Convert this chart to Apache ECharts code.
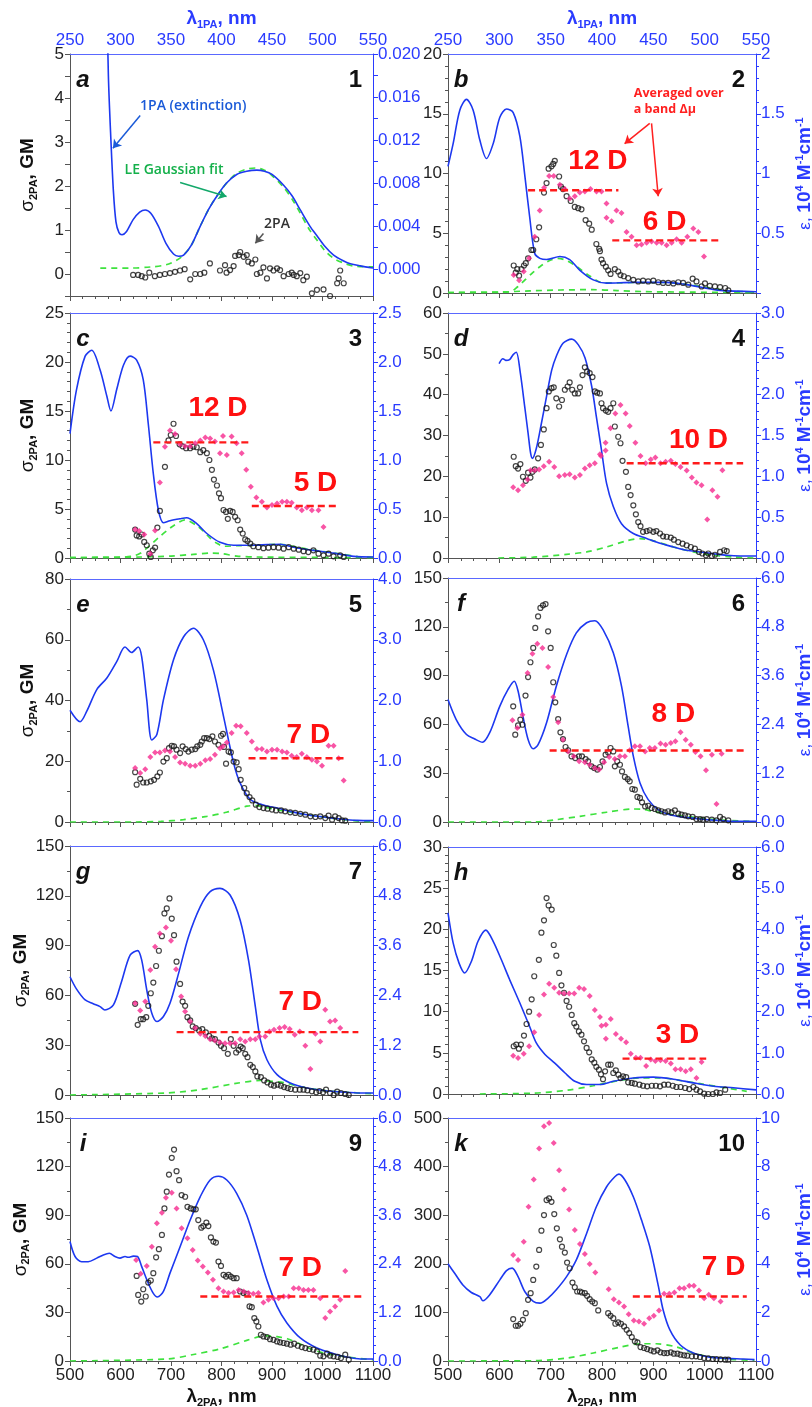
<!DOCTYPE html>
<html>
<head>
<meta charset="utf-8">
<script src="https://cdn.jsdelivr.net/npm/echarts@6/dist/echarts.min.js"></script>
<style>html,body{margin:0;background:#fff}#chart{width:812px;height:1407px}</style>
</head>
<body>
<div id="chart"></div>
<script>
// ---- panel a (compound 1) ----
const extA = [[570,0.032],[576,0.018],[581,0.012],[586,0.0072],[591,0.0044],[597,0.0034],[603,0.0032],[612,0.0035],[625,0.0046],[638,0.0053],[649,0.0055],[660,0.0052],[675,0.004],[690,0.0024],[705,0.0014],[715,0.0012],[725,0.0013],[740,0.0022],[758,0.004],[775,0.0056],[791,0.0068],[810,0.008],[830,0.0088],[850,0.0091],[870,0.0092],[885,0.0091],[900,0.0088],[923,0.0078],[940,0.0068],[956,0.0055],[975,0.004],[989,0.0031],[1005,0.0021],[1022,0.0013],[1040,0.0008],[1055,0.0005],[1075,0.0003],[1100,0.0001]];
const fitA = [[560,0.0001],[620,0.0001],[660,0.0002],[690,0.0004],[710,0.0008],[725,0.0013],[740,0.0022],[758,0.004],[775,0.0056],[791,0.0068],[810,0.008],[830,0.0089],[850,0.0093],[868,0.0094],[885,0.0092],[900,0.0087],[923,0.0076],[940,0.0065],[956,0.0052],[975,0.0036],[989,0.0027],[1005,0.0017],[1022,0.001],[1040,0.0006],[1060,0.0003],[1100,0.0002]];
const tpaA = [[625,-0.02],[635,-0.02],[642,-0.05],[649,-0.08],[657,0.03],[668,-0.05],[678,-0.02],[688,0],[698,0.02],[708,0.05],[718,0.08],[727,0.11],[738,-0.12],[748,0],[758,0],[766,0.03],[777,0.24],[797,0.08],[807,0.2],[810,0.03],[817,0.09],[824,0.18],[827,0.41],[834,0.43],[837,0.5],[844,0.39],[850,0.43],[853,0.28],[860,0.24],[867,0.33],[870,0],[877,0.03],[883,0.15],[890,-0.1],[896,0.13],[903,0.08],[910,0.13],[916,0.09],[923,-0.05],[933,0],[939,0.03],[943,-0.02],[949,-0.05],[956,0.02],[962,-0.14],[969,-0.06],[979,-0.44],[989,-0.36],[1002,-0.35],[1015,-0.5],[1029,-0.21],[1032,-0.1],[1035,0.08],[1042,-0.21]];

// ---- panel b (2) ----
const extB = [[500,1.06],[510,1.25],[523,1.53],[536,1.62],[549,1.53],[562,1.28],[575,1.125],[588,1.25],[601,1.47],[614,1.54],[627,1.51],[640,1.31],[650,0.97],[659,0.64],[669,0.33],[679,0.29],[692,0.28],[718,0.305],[737,0.28],[757,0.19],[783,0.11],[809,0.083],[861,0.089],[926,0.089],[965,0.07],[991,0.05],[1030,0.022],[1100,0.011]];
const fitB1 = [[500,0.004],[600,0.006],[621,0.01],[635,0.05],[650,0.11],[665,0.17],[679,0.22],[697,0.27],[714,0.29],[732,0.27],[751,0.22],[777,0.14],[802,0.085],[830,0.085],[870,0.088],[920,0.088],[960,0.075],[1000,0.05],[1040,0.022],[1070,0.012],[1100,0.006]];
const fitB2 = [[500,0.004],[600,0.008],[660,0.018],[720,0.025],[780,0.028],[830,0.02],[880,0.012],[950,0.008],[1100,0.003]];
const tpaB = [[628,2.3],[632,1.7],[635,2.0],[638.5,1.45],[643,2.0],[648,2.3],[651.5,2.5],[656,2.9],[662.5,3.6],[666,3.6],[672,4.5],[677.5,5.5],[687,8.4],[692,9.2],[696,10.4],[701.6,10.6],[705,10.8],[708,11.06],[716.5,9.75],[720,8.9],[724,8.7],[731,8.1],[739,7.7],[747,7.2],[753.6,7.1],[760,7.0],[768,6.1],[775,5.8],[780,5.3],[789,4.1],[794.5,3.7],[796,3.5],[799,2.8],[802,2.5],[807.5,2.2],[812,1.9],[816.6,1.6],[825,2.0],[831.6,1.8],[836,1.5],[842.6,1.4],[851,1.25],[861,1.1],[870.6,0.97],[880,1.03],[890,0.97],[900,1.03],[909.6,0.9],[919,0.84],[929,0.84],[939,0.8],[948.6,0.9],[958,0.84],[968,0.7],[976.6,1.2],[984,0.97],[994,0.55],[1000.6,0.8],[1010,0.6],[1020,0.55],[1030,0.5],[1040,0.42],[1046,0.22]];
const avgB = [[628,1.5],[638.5,1.06],[647.6,1.8],[658,2.9],[669,4.7],[678.8,6.9],[687.3,8.8],[697,9.8],[706,9.8],[717.8,9.05],[727.6,8.7],[737.3,7.9],[747,8.1],[756.8,8.4],[766.6,8.5],[777.6,8.7],[789.3,8.5],[799,8.5],[808.8,7.5],[808.8,6.3],[818.6,6.0],[828.3,6.9],[838,6.7],[847.8,5.1],[857.6,4.7],[867.4,4.0],[877,4.05],[886.9,4.2],[896.6,4.3],[906.4,4.2],[916.1,4.2],[925.9,4.0],[935.6,4.2],[945.4,4.5],[955.1,4.2],[966.2,4.7],[977.9,5.4],[987.6,5.1],[998.7,3.06]];
const bandsB = [[656,832,8.6],[820,1031,4.4]];

// ---- panel c (3) ----
const extC = [[500,1.27],[513,1.72],[530,2.06],[543,2.12],[559.5,1.92],[573,1.65],[581,1.5],[592.5,1.72],[606,1.97],[619,2.06],[632,2.02],[645,1.82],[655,1.37],[665,0.86],[675,0.49],[685,0.36],[698,0.38],[718,0.4],[731,0.41],[751,0.35],[771,0.25],[797,0.16],[824,0.13],[863,0.13],[890,0.136],[916,0.14],[943,0.11],[982,0.078],[1022,0.05],[1062,0.017],[1100,0.01]];
const fitC1 = [[500,0.005],[600,0.008],[625,0.02],[640,0.05],[652,0.1],[665,0.16],[678,0.22],[692,0.28],[705,0.33],[728,0.39],[751,0.33],[765,0.27],[778,0.2],[791,0.15],[804,0.12],[830,0.125],[870,0.13],[916,0.14],[950,0.11],[990,0.075],[1030,0.045],[1070,0.015],[1100,0.006]];
const fitC2 = [[500,0.004],[640,0.01],[700,0.02],[740,0.035],[780,0.05],[800,0.045],[830,0.02],[870,0.01],[1100,0.003]];
const tpaC = [[629,2.9],[632,2.3],[637,2.2],[642,2.4],[647,1.64],[652,1.3],[657,0.44],[660,0.1],[664,0.78],[668.5,1.06],[673,3.1],[678,4.8],[688,9.3],[695,12.0],[699.5,12.55],[705,13.7],[710,12.45],[717,11.6],[723,11.4],[730,11.2],[738,11.2],[744.5,11.36],[751,11.3],[758,10.8],[764,11.0],[771,10.7],[776,10.0],[781,9.0],[785,8.0],[791,7.4],[795,6.6],[799,6.1],[804,4.9],[809,4.7],[812.5,4.0],[817,4.8],[822,4.7],[827,4.2],[832,3.85],[837,2.9],[842,2.5],[847,1.9],[851.5,1.74],[857,1.47],[863,1.2],[873,1.1],[883,1.0],[893,1.05],[903,1.1],[913,1.05],[923,0.95],[933,1.1],[943,0.95],[953,0.85],[962.5,0.7],[972,0.6],[982,0.78],[992,0.44],[1002,0.27],[1012,0.44],[1022,0.17],[1035,0.27],[1042,0.1]];
const avgC = [[629,2.9],[637,2.75],[647,2.4],[659,0.44],[668.5,2.8],[678,7.7],[688,11.35],[698,13.0],[708,12.65],[718,11.6],[728,11.4],[738,11.4],[748,11.7],[758,12.0],[768,12.3],[777.5,12.2],[787,11.9],[797,10.7],[803,12.45],[810.5,10.5],[820,12.4],[830,11.7],[840,10.7],[849,9.0],[858,7.26],[869,6.17],[880,5.73],[890,5.15],[900,5.4],[910,5.56],[920,5.73],[929.5,5.73],[939,5.63],[949,5.15],[959,4.88],[969,5.15],[979,4.88],[992,4.88],[1002,3.17]];
const bandsC = [[665,857,11.8],[860,1032,5.3]];

// ---- panel d (4) ----
const extD = [[599.5,2.38],[607,2.44],[612.5,2.42],[620,2.43],[627,2.49],[633,2.52],[641,2.26],[649.5,1.85],[656,1.53],[661,1.28],[664.5,1.22],[672,1.34],[682,1.65],[692,1.98],[702,2.3],[711,2.47],[724,2.63],[741,2.68],[754,2.61],[767,2.45],[780,2.1],[789,1.73],[799,1.32],[809,0.91],[822,0.63],[838,0.42],[861,0.3],[887,0.24],[913,0.18],[939,0.135],[965,0.094],[991,0.074],[1017,0.053],[1043,0.033],[1069,0.025],[1100,0.025]];
const fitD = [[598,0],[666,0.01],[731,0.045],[770,0.074],[809,0.135],[848,0.21],[874,0.237],[900,0.21],[939,0.135],[978,0.074],[1017,0.033],[1056,0.012],[1095,0]];
const tpaD = [[628,24.8],[632,22.5],[636.5,21.9],[641,23.0],[646,19.9],[651.5,18.9],[656,20.9],[660.6,19.7],[664.5,21.1],[669,21.7],[675.5,24.4],[681,27.7],[686.6,31.5],[692,36.7],[696.4,40.8],[701.6,41.6],[706,41.8],[711,39.1],[716.5,37.1],[722,38.7],[727.6,41.2],[733,42.0],[737,43.0],[742,41.2],[747,40.3],[753.6,40.3],[757,41.8],[762,44.8],[766.6,46.7],[771,45.7],[776,45.3],[781.5,44.3],[786,40.8],[790.6,40.5],[796,40.3],[799,37.9],[802,36.7],[807.5,36.1],[812,35.8],[816.6,36.7],[822,37.9],[825,32.2],[831.6,29.7],[836,28.1],[840,23.8],[846.6,21.1],[851,17.4],[855.7,15.4],[861,12.9],[866,10.7],[870.6,8.8],[875,7.8],[880,6.4],[887,6.6],[893,6.8],[900,6.4],[906,6.6],[913,6.0],[919,5.3],[926,5.2],[934,5.0],[940,4.5],[948.6,3.9],[957,3.5],[965,3.1],[973,2.7],[981,2.3],[989,1.5],[995.5,1.1],[1002.6,0.65],[1007,1.1],[1014,0.5],[1020,0.8],[1030,1.5],[1038,1.9],[1043,1.7]];
const avgD = [[627,17.3],[636.5,16.6],[646,17.8],[655,19.2],[661,21.5],[669,21.5],[677.5,21.7],[686.6,22.5],[697,23.6],[707,22.3],[716.5,20.0],[727.6,20.3],[737,20.5],[747,19.7],[757,20.3],[766.6,21.9],[776,22.7],[786,23.2],[796,25.4],[798,25.0],[807,26.3],[807,28.2],[816.6,31.8],[826,35.4],[836,37.5],[846,35.4],[854,32.3],[865,28.2],[875,25.0],[885,23.2],[895,24.1],[904,24.6],[914,23.2],[924,23.6],[934,23.8],[943,23.0],[953,22.3],[965,21.4],[975,19.7],[984,18.5],[994,17.8],[1005,9.4],[1015,16.6],[1025,15.0],[1034.5,21.5]];
const bandsD = [[848,1075,23.2]];

// ---- panel e (5) ----
const extE = [[500,1.84],[520,1.65],[533,1.82],[553,2.18],[573,2.37],[592.5,2.64],[609,2.88],[622,2.79],[635,2.88],[642,2.72],[652,2.01],[662,1.35],[672,1.44],[685,2.01],[705,2.67],[725,3.05],[744.5,3.19],[764,3.0],[784,2.5],[804,1.74],[824,0.97],[837,0.64],[857,0.37],[883,0.28],[910,0.23],[936,0.175],[969,0.12],[1002,0.082],[1035,0.05],[1068,0.027],[1100,0.022]];
const fitE = [[500,0],[625,0],[680,0.01],[725,0.038],[771,0.093],[810,0.16],[850,0.26],[870,0.27],[883,0.25],[923,0.18],[969,0.12],[1015,0.066],[1062,0.022],[1100,0]];
const tpaE = [[629,16.4],[632,12.3],[639,14.2],[645,13.0],[652,13.0],[660,13.4],[666.5,13.9],[673,15.0],[678,16.3],[685,19.9],[691.6,21.0],[696,24.3],[701.5,25.1],[706,24.9],[711,23.8],[718,22.7],[723,24.9],[729,24.0],[734.5,23.2],[741,23.8],[748,24.0],[752,24.9],[758,25.4],[761,26.5],[765.6,27.6],[771,27.6],[776,27.3],[782,28.2],[787,26.5],[794,25.4],[799,28.4],[803,29.0],[805,24.7],[809,19.2],[814,23.2],[818.5,22.9],[824,19.9],[830,19.6],[834,17.4],[838,13.9],[845,11.2],[850,9.5],[855.5,8.2],[861,7.1],[868,5.7],[875,4.9],[883,4.6],[891,4.4],[900,4.1],[908,3.8],[918,3.8],[926,3.5],[936,3.2],[946,3.0],[956,2.7],[966,2.4],[976,1.86],[986,1.64],[995.5,1.86],[1005.5,1.3],[1012,2.1],[1019,0.77],[1025,1.86],[1032,1.3],[1038.5,0.55],[1045,0.44]];
const avgE = [[629,17.8],[639,16.1],[649,17.4],[659,21.4],[668.5,22.9],[678,22.9],[688,23.5],[698,23.2],[708,21.4],[718,19.6],[728,19.2],[738,18.5],[748,18.5],[758,19.2],[768,20.3],[777.5,20.7],[787,22.1],[797,24.3],[803,24.9],[810.5,26.2],[820,29.3],[829,31.7],[838,31.5],[850,29.3],[860,26.5],[870,24.0],[880,24.0],[890,23.2],[900,23.8],[910,23.8],[920,23.2],[929.5,22.9],[939,21.8],[949,21.4],[959,22.5],[969,21.4],[979,20.5],[989,19.9],[999,18.5],[1012,25.1],[1022,25.1],[1032,21.0],[1042,13.7]];
const bandsE = [[853.5,1048,21.0]];

// ---- panel f (6) ----
const extF = [[500,3.01],[516,2.52],[536,2.15],[552,2.04],[567,1.96],[581,2.19],[601,2.85],[617,3.26],[629,3.46],[636.5,3.22],[646,2.6],[656,2.03],[666,1.8],[675.5,1.9],[692,2.44],[711,3.34],[731,4.12],[750,4.65],[770,4.9],[786,4.95],[802,4.73],[822,4.16],[838,3.34],[851,2.35],[861,1.62],[874,0.96],[890,0.55],[910,0.3],[932,0.18],[958,0.12],[991,0.074],[1023,0.041],[1056,0.016],[1100,0.016]];
const fitF = [[500,0],[666,0],[711,0.057],[757,0.14],[809,0.24],[861,0.32],[880,0.31],[900,0.26],[939,0.18],[991,0.1],[1043,0.04],[1095,0.016]];
const tpaF = [[627,71.1],[631,53.7],[636.5,59.4],[641,62.9],[645,59.8],[651,77.7],[656,89.1],[660.6,98.2],[666,107.0],[670,119.3],[675.5,126.4],[680,131.6],[685,133.2],[690,134.0],[695,117.2],[700,107.0],[705,85.9],[709,73.6],[714.6,63.3],[719,55.1],[724,51.0],[729,46.1],[734,44.1],[740.6,40.4],[748,39.3],[755,40.4],[761,40.4],[768,38.7],[773,37.3],[779.6,34.2],[785,33.2],[790.6,32.2],[796,33.8],[801,37.3],[807,41.4],[812,42.8],[816.6,45.5],[822,43.4],[825,34.2],[829.6,37.3],[835,35.2],[839,31.1],[844.6,27.7],[850,26.4],[854,25.0],[859,20.3],[864,19.9],[869,15.4],[874,14.8],[878,12.1],[884,9.6],[890,10.0],[896.6,8.6],[903,8.0],[909.6,7.2],[916,6.6],[922.6,5.9],[929,6.6],[935.6,5.9],[942,7.2],[948.6,5.1],[955,4.5],[961.6,4.1],[968,3.5],[976.6,3.1],[984,1.8],[991,1.8],[997,1.4],[1004,1.8],[1014,1.4],[1023,1.0],[1030,3.1],[1036,1.8],[1046,1.0]];
const avgF = [[625.5,62.5],[635,57.8],[645,66.0],[655,91.6],[664.5,103.5],[674,109.6],[684,107.0],[695,95.3],[705,76.8],[714.6,61.3],[724,50.6],[734,43.4],[745,40.4],[755.5,37.3],[766.6,36.7],[776,35.2],[786,33.2],[794.5,32.2],[804,36.7],[814,40.0],[825,38.7],[835,40.4],[844.6,40.4],[854,44.1],[864,46.5],[874,46.5],[884,43.4],[893,45.5],[903,45.5],[914,48.2],[924,47.5],[934,48.6],[943,49.6],[953,55.1],[963,50.6],[973,47.5],[982,43.0],[992,40.4],[1002.6,31.8],[1014,41.4],[1023,11.1],[1033,42.0]];
const bandsF = [[698,1082,44.0]];

// ---- panel g (7) ----
const extG = [[500,2.85],[513,2.55],[530,2.29],[546,2.2],[559.5,2.13],[569,2.05],[586,2.17],[602,2.73],[619,3.37],[634,3.48],[642,3.25],[652,2.53],[662,1.97],[672,1.77],[685,1.89],[698,2.21],[715,2.93],[734.5,3.81],[758,4.54],[777.5,4.9],[797,4.98],[817,4.82],[837,4.21],[853.5,3.25],[867,2.13],[877,1.33],[890,0.85],[910,0.49],[936,0.29],[969,0.17],[1002,0.11],[1042,0.07],[1075,0.05],[1100,0.05]];
const fitG = [[500,0],[692,0.05],[758,0.13],[824,0.27],[877,0.35],[900,0.33],[923,0.3],[956,0.2],[1002,0.11],[1042,0.07],[1100,0.03]];
const tpaG = [[629,54.9],[634,42.3],[640,45.7],[645,45.7],[651,46.9],[655,53.7],[660,61.3],[665,67.7],[670.5,77.7],[676,86.9],[682,95.7],[687,109.4],[691.6,112.4],[697,118.4],[701.5,106.3],[706,96.3],[711,80.3],[718,66.9],[723,56.3],[728,53.7],[732.6,46.9],[738,44.9],[743,41.3],[749,40.3],[755.7,38.9],[762,39.7],[769,37.7],[775.5,35.6],[781,34.2],[787,33.6],[794,31.6],[799,29.6],[805,28.2],[812.5,24.8],[818.5,33.6],[824,29.6],[829,25.6],[834,27.2],[838,29.2],[842,28.2],[847,24.8],[851.5,22.8],[857,18.2],[862,16.8],[867,14.2],[871,11.2],[878,10.8],[884.5,8.8],[891,7.6],[898,6.2],[904,5.6],[911,6.2],[917.6,5.6],[924,4.8],[931,4.2],[937,3.6],[946,3.2],[955,3.2],[962.5,3.2],[970,2.8],[979,2.2],[987.6,1.6],[994,2.4],[1001,1.6],[1007,3.2],[1015,1.2],[1022,0],[1029,2.0],[1036.5,1.2],[1045,0.6],[1052,0]];
const avgG = [[629,55.3],[639,50.9],[649,56.3],[659,75.3],[668.5,89.3],[678,97.3],[690,100.9],[700,92.9],[710,75.7],[720,59.3],[728,50.3],[738,44.3],[748,40.3],[758,36.9],[768,35.6],[777.5,33.6],[787,32.8],[797,31.6],[807,31.2],[817,31.2],[827,31.2],[837,33.6],[847,32.2],[857,33.6],[867,33.6],[875,35.2],[886.5,35.2],[895,38.3],[904,39.3],[915,40.3],[925,40.9],[935,39.7],[945,36.3],[955,38.3],[966,29.6],[976,15.6],[986,36.9],[995.5,32.2],[1005.5,51.3],[1015,44.3],[1025,44.9],[1035,40.3]];
const bandsG = [[711,1071,37.9]];

// ---- panel h (8) ----
const extH = [[500,4.4],[510,3.67],[521.5,3.18],[532.5,2.94],[545.5,3.22],[558.5,3.71],[573.5,3.98],[588,3.71],[604,3.26],[620,2.78],[640,2.21],[659,1.64],[672,1.24],[689,0.96],[708,0.75],[728,0.51],[747,0.31],[770,0.23],[796,0.23],[822,0.31],[861,0.39],[900,0.41],[939,0.36],[978,0.27],[1017,0.19],[1056,0.15],[1100,0.1]];
const fitH = [[562,0],[666,0.02],[731,0.09],[783,0.2],[835,0.33],[874,0.39],[913,0.39],[952,0.33],[991,0.25],[1030,0.17],[1082,0.065]];
const tpaH = [[628,5.8],[633,6.0],[638,5.5],[642,6.0],[648,7.1],[653,8.5],[658,10.0],[663,11.5],[668,14.3],[677,16.3],[682,19.6],[687,21.1],[692,23.8],[696,22.9],[702,22.4],[706,18.1],[711,16.8],[716.5,14.7],[721,13.2],[726,12.3],[731,11.3],[736,10.6],[741,9.6],[746,8.6],[750,8.2],[755,7.6],[760,7.2],[765,6.4],[770,5.6],[775,5.06],[780,4.2],[785,3.8],[789,3.3],[794,2.96],[798,2.4],[802,1.8],[806,2.75],[812,3.56],[817,3.56],[822,2.55],[827,2.87],[832,2.35],[836,1.94],[841,2.15],[847,2.06],[851,1.42],[858,1.34],[864,1.26],[873,1.13],[880,1.0],[888,0.93],[897,1.0],[905,1.0],[913,0.93],[921,1.13],[929,1.13],[938,1.0],[945,0.85],[953,0.85],[962,0.73],[970,0.6],[978,0.85],[984,0.53],[991,0.32],[999,0.04],[1007,0],[1016,0],[1023,0.2],[1030,0.12],[1040,0.53]];
const avgH = [[627,4.66],[636.5,4.37],[647.6,4.9],[658,5.8],[668,7.5],[677.5,9.6],[687,12.1],[697,13.4],[707,12.9],[716.5,12.3],[726,12.2],[736,12.2],[746,12.2],[755.5,12.9],[765,12.75],[776,11.9],[786,10.2],[796,9.35],[799,8.3],[807.5,8.4],[807.5,6.7],[817,9.1],[827,7.3],[837,6.7],[847,6.3],[856,4.9],[866,4.4],[875,4.4],[886,3.4],[895,4.2],[904,4.0],[914,4.1],[924,4.0],[934,3.7],[943,3.0],[953,3.0],[963,2.75],[973,3.0],[984,1.94],[994,3.9]];
const bandsH = [[840,1003,4.3]];

// ---- panel i (9) ----
const extI = [[500,2.95],[510,2.58],[523,2.45],[536,2.45],[553,2.54],[566,2.62],[578,2.66],[589,2.58],[599,2.54],[609,2.58],[615.6,2.56],[625.5,2.59],[633.5,2.58],[642,2.33],[655,1.92],[665,1.67],[673,1.58],[685,1.72],[698,2.17],[718,2.82],[738,3.48],[758,4.06],[777.5,4.47],[794,4.56],[810.5,4.47],[830,4.14],[850,3.6],[870,2.82],[890,2.0],[910,1.35],[929.5,0.94],[956,0.57],[989,0.32],[1022,0.18],[1048,0.1],[1075,0.05],[1100,0.05]];
const fitI = [[500,0],[692,0.05],[744.5,0.16],[797,0.3],[850,0.51],[875,0.6],[890,0.62],[910,0.6],[930,0.55],[956,0.42],[980,0.28],[1009,0.18],[1048,0.1],[1100,0.03]];
const tpaI = [[632,52.5],[635,40.8],[641,36.7],[645,44.3],[650,39.8],[655,48.4],[660,49.7],[665,54.2],[670.5,64.0],[676,69.0],[682,77.8],[687,94.2],[691.6,104.5],[696,115.1],[701.5,125.4],[706,130.5],[711,117.2],[716,111.6],[721,102.4],[728,101.4],[732.6,95.2],[739,94.2],[744.5,93.6],[749,93.6],[754,87.0],[760,82.3],[764,83.3],[770,85.4],[774,83.3],[779,76.3],[784,73.7],[789,73.1],[794,61.4],[799,58.7],[804,53.2],[809,52.1],[814,53.2],[818.5,52.1],[824,51.1],[830,51.1],[837,42.9],[843.6,41.9],[850,41.5],[855.5,33.7],[860,33.2],[865,26.5],[869,24.4],[873,21.3],[878,16.2],[883,15.2],[890,14.8],[896,13.5],[903,13.1],[910,12.1],[916,11.5],[923,11.1],[929.5,10.7],[937,10.1],[944,10.7],[951,9.4],[959,8.6],[966,8.0],[974,7.4],[982,7.0],[989,6.0],[995.5,3.3],[1002,2.9],[1009,4.5],[1015,3.3],[1022,2.9],[1030,2.5],[1036.5,1.8],[1045,3.9],[1052,0.8]];
const avgI = [[631,62.4],[640,53.8],[652,58.7],[662,70.6],[672,85.0],[682,91.5],[690,100.8],[701.5,103.8],[711,94.2],[721,81.9],[732.6,75.7],[743,68.5],[753,62.0],[763,58.3],[773,54.6],[783,50.1],[794,44.9],[804,42.9],[814,41.9],[824,42.3],[834,43.9],[844,42.9],[853.5,41.9],[863,41.5],[873,41.9],[883,36.1],[893,37.8],[903,38.8],[913,38.8],[923,39.8],[933,39.8],[943,44.9],[953,44.9],[962.5,43.9],[972,43.9],[982,43.9],[995.5,38.8],[1005.5,26.5],[1015,30.6],[1025,33.7],[1035,37.8],[1045,55.6]];
const bandsI = [[758,1078,39.8]];

// ---- panel k (10) ----
const extK = [[500,4.0],[513,3.61],[529,3.13],[545.5,2.82],[562,2.65],[568,2.48],[581,2.72],[601,3.34],[614,3.72],[625,3.82],[636.5,3.47],[649.5,2.86],[666,2.45],[679,2.38],[695,2.59],[711,2.93],[731,3.47],[750,4.16],[770,5.25],[789,6.35],[809,7.17],[825,7.58],[833,7.69],[845,7.44],[861,6.76],[877,5.8],[893,4.71],[910,3.06],[919,2.11],[932,1.29],[952,0.67],[978,0.33],[1010,0.16],[1043,0.11],[1075,0.08],[1097,0.055]];
const fitK = [[500,0],[666,0.01],[731,0.12],[783,0.33],[835,0.57],[874,0.71],[906,0.71],[945,0.58],[965,0.42],[985,0.28],[1017,0.15],[1056,0.06],[1097,0.03]];
const tpaK = [[627,86.2],[632,72.5],[636.5,72.5],[641,76.6],[646,84.8],[651.5,98.5],[656,125.9],[661,139.5],[666,166.9],[672,194.3],[677.5,228.5],[682,268.1],[687,300.3],[692,331.1],[697,334.5],[701.6,327.6],[707,302.3],[712,272.9],[718,250.3],[722,235.3],[727.6,223.0],[732,202.5],[737,190.8],[742.5,161.4],[747,151.8],[751.6,143.0],[757,143.0],[761,140.9],[766.6,139.5],[771,134.1],[776,127.2],[781,122.4],[786,119.0],[792.6,104.0],[812,98.5],[816.6,93.0],[822,88.2],[826,76.6],[831.6,79.3],[837,76.6],[843,71.1],[848,64.3],[853,57.5],[858,49.2],[864,40.4],[869,38.3],[875,28.7],[882,26.7],[888,24.6],[895,21.9],[901,19.8],[908,21.9],[914,17.8],[921,16.4],[927,16.4],[934,17.8],[940,15.0],[947,15.0],[953,13.0],[960,11.6],[966,10.9],[975,9.6],[983,9.6],[991,8.2],[999,6.2],[1007,5.5],[1016,4.1],[1023,4.1],[1031,3.4],[1040,2.7],[1046,2.7]];
const avgK = [[627,218.2],[636.5,207.9],[647.6,245.6],[657,317.4],[667,373.5],[677.5,437.1],[687,482.9],[697,489.7],[706,448.7],[716.5,392.6],[726,352.9],[736,311.9],[747,269.5],[757,240.8],[766.6,220.2],[776,199.7],[787,181.9],[813,147.7],[823,127.2],[833,120.4],[843,112.2],[852,96.4],[862,83.4],[872,81.4],[882,76.6],[892,88.2],[901,93.0],[911,104.0],[921,138.2],[931,138.2],[941,140.9],[951,149.8],[960,149.8],[970,154.6],[979,154.6],[989,145.0],[999,129.3],[1008,136.1],[1018,129.3],[1031,122.4]];
const bandsK = [[860,1082,132.7]];

// ---- axes / tick labels ----
const letters = ['a','b','c','d','e','f','g','h','i','k'];
const numbers = ['1','2','3','4','5','6','7','8','9','10'];
const leftMin = [-0.5,0,0,0,0,0,0,0,0,0];
const leftMax = [5,20,25,60,80,150,150,30,150,500];
const leftStep = [0.5,5,5,10,20,30,30,5,30,100];
const leftMinor = [0,5,5,2,2,2,2,5,2,2];
const rightMax = [0.02,2,2.5,3,4,6,6,6,6,10];
const rightStep = [0.004,0.5,0.5,0.5,1,1.2,1.2,1,1.2,2];
const rightMinor = [0,5,5,5,5,6,6,5,6,4];
const rightDigits = [3,-1,1,1,1,1,1,1,1,0];
const rightTicksA = [0,0.004,0.008,0.012,0.016,0.020];
const rightMinorA = [0,0.002,0.004,0.006,0.008,0.010,0.012,0.014,0.016,0.018,0.020];
const topTicks = [250,550,50];
const bottomTicks = [500,1100,100];

// text notes: [panel, x(nm), y(left axis), text, style]
const notes = [
  [0,744,3.82,'1PA (extinction)','blue'],
  [0,706,2.36,'LE Gaussian fit','green'],
  [0,910,1.14,'2PA','gray'],
  [1,792,11.0,'12 D','big'],[1,922,5.95,'6 D','big'],
  [1,862,17.4,'Averaged over\na band Δμ','note'],
  [2,793,15.3,'12 D','big'],[2,986,7.6,'5 D','big'],
  [3,988,28.9,'10 D','big'],
  [4,972,28.7,'7 D','big'],
  [5,939,66.2,'8 D','big'],
  [6,956,56,'7 D','big'],
  [7,947,7.1,'3 D','big'],
  [8,956,57.5,'7 D','big'],
  [9,1037,193.5,'7 D','big']
];
// arrows: [panel, x1, y1, x2, y2, colour]
const arrows = [
  [0,639,3.6,585,2.86,'#1a5ad8'],
  [0,718,2.08,810,1.76,'#13a86a'],
  [0,883,0.92,867,0.7,'#555555'],
  [1,893,14.2,844,12.5,'#ff2020'],
  [1,896.5,14.2,909.5,8.1,'#ff2020']
];

const panels = [
  {ext:extA, fits:[fitA], tpa:tpaA, avg:null, bands:[]},
  {ext:extB, fits:[fitB1,fitB2], tpa:tpaB, avg:avgB, bands:bandsB},
  {ext:extC, fits:[fitC1,fitC2], tpa:tpaC, avg:avgC, bands:bandsC},
  {ext:extD, fits:[fitD], tpa:tpaD, avg:avgD, bands:bandsD},
  {ext:extE, fits:[fitE], tpa:tpaE, avg:avgE, bands:bandsE},
  {ext:extF, fits:[fitF], tpa:tpaF, avg:avgF, bands:bandsF},
  {ext:extG, fits:[fitG], tpa:tpaG, avg:avgG, bands:bandsG},
  {ext:extH, fits:[fitH], tpa:tpaH, avg:avgH, bands:bandsH},
  {ext:extI, fits:[fitI], tpa:tpaI, avg:avgI, bands:bandsI},
  {ext:extK, fits:[fitK], tpa:tpaK, avg:avgK, bands:bandsK}
];
// plot boxes [left, top, width, height]
const boxes = [[70,54,303,242],[448,54,308,239],[70,313,303,245],[448,313,308,245],[70,579,303,243],[448,578,308,244],[70,846,303,249],[448,847,308,247],[70,1118,303,243],[448,1118,308,243]];

const FONT = '"Liberation Sans", Arial, sans-serif';
const BLUE = '#1d38f0';
const AXBLUE = '#2a3bff';
const GRAY = '#555';
const PINK = '#f62a8e';

const richLeft = {
  s:{fontSize:19, color:'#111', fontFamily:FONT, lineHeight:22},
  sub:{fontSize:11, color:'#111', fontFamily:FONT, fontWeight:'bold', verticalAlign:'bottom', lineHeight:13},
  b:{fontSize:19, color:'#111', fontFamily:FONT, fontWeight:'bold', lineHeight:22}
};
const richRight = {
  s:{fontSize:17, color:AXBLUE, fontFamily:FONT, lineHeight:22},
  sup:{fontSize:11, color:AXBLUE, fontFamily:FONT, fontWeight:'bold', verticalAlign:'top', lineHeight:12},
  b:{fontSize:19, color:AXBLUE, fontFamily:FONT, fontWeight:'bold', lineHeight:22}
};
function richX(color) {
  return {
    s:{fontSize:19, color:color, fontFamily:FONT, fontWeight:'bold', lineHeight:22},
    sub:{fontSize:11, color:color, fontFamily:FONT, fontWeight:'bold', verticalAlign:'bottom', lineHeight:13},
    b:{fontSize:19, color:color, fontFamily:FONT, fontWeight:'bold', lineHeight:22}
  };
}

const grid = [], xAxis = [], yAxis = [], series = [];
panels.forEach((p, i) => {
  const [l, t, w, h] = boxes[i];
  const isLeft = i % 2 === 0, isBottom = i >= 8, isTop = i < 2;
  grid.push({left:l, top:t, width:w, height:h, containLabel:false, outerBoundsMode:'none'});

  xAxis.push({
    type:'value', gridIndex:i, position:'bottom',
    min:bottomTicks[0], max:bottomTicks[1], interval:bottomTicks[2],
    axisLine:{onZero:false, lineStyle:{color:GRAY, width:1}},
    axisTick:{length:5, lineStyle:{color:GRAY}},
    minorTick:{show:true, splitNumber:4, length:3, lineStyle:{color:GRAY}},
    axisLabel:{show:isBottom, color:'#222', fontSize:17, fontFamily:FONT, margin:6, formatter:v => String(v)},
    splitLine:{show:false}, minorSplitLine:{show:false},
    name:isBottom ? '{s|λ}{sub|2PA}{b|, nm}' : '', nameLocation:'middle', nameGap:25,
    nameTextStyle:{rich:richX('#111')}
  });
  xAxis.push({
    type:'value', gridIndex:i, position:'top',
    min:topTicks[0], max:topTicks[1], interval:topTicks[2],
    axisLine:{onZero:false, lineStyle:{color:'#5a68ff', width:1}},
    axisTick:{show:false},
    axisLabel:{show:isTop, color:AXBLUE, fontSize:17, fontFamily:FONT, margin:5, formatter:v => String(v)},
    splitLine:{show:false},
    name:isTop ? '{s|λ}{sub|1PA}{b|, nm}' : '', nameLocation:'middle', nameGap:24,
    nameTextStyle:{rich:richX(AXBLUE)}
  });

  const left = {
    type:'value', gridIndex:i, position:'left',
    min:leftMin[i], max:leftMax[i], interval:leftStep[i],
    axisLine:{show:true, onZero:false, lineStyle:{color:GRAY, width:1}},
    axisTick:{show:true, length:5, lineStyle:{color:GRAY}},
    minorTick:{show:leftMinor[i] > 0, splitNumber:leftMinor[i] || 1, length:3, lineStyle:{color:GRAY}},
    axisLabel:{color:'#222', fontSize:17, fontFamily:FONT, margin:6,
      formatter: v => (i === 0 && (v < 0 || Math.abs(v - Math.round(v)) > 1e-6)) ? '' : String(Math.round(v * 100) / 100)},
    splitLine:{show:false},
    name:isLeft ? '{s|σ}{sub|2PA}{b|, GM}' : '', nameLocation:'middle', nameGap:31, nameRotate:90,
    nameTextStyle:{rich:richLeft}
  };
  yAxis.push(left);

  const right = {
    type:'value', gridIndex:i, position:'right',
    min:i === 0 ? -0.0025 : 0, max:rightMax[i],
    axisLine:{show:true, onZero:false, lineStyle:{color:AXBLUE, width:1}},
    axisTick:{show:true, length:5, lineStyle:{color:AXBLUE}},
    minorTick:{show:rightMinor[i] > 0, splitNumber:rightMinor[i] || 1, length:3, lineStyle:{color:AXBLUE}},
    axisLabel:{color:AXBLUE, fontSize:17, fontFamily:FONT, margin:5,
      formatter: v => {
        const d = rightDigits[i];
        if (d < 0) return v === 0 ? '' : String(Math.round(v * 10) / 10);
        return v.toFixed(d);
      }},
    splitLine:{show:false},
    name:!isLeft ? '{s|ε, }{b|10}{sup|4}{b| M}{sup|-1}{b|cm}{sup|-1}' : '',
    nameLocation:'middle', nameGap:38, nameRotate:90,
    nameTextStyle:{rich:richRight}
  };
  if (i === 0) {
    right.axisTick.customValues = rightMinorA;
    right.axisLabel.customValues = rightTicksA;
    right.minorTick = {show:false};
  } else {
    right.interval = rightStep[i];
  }
  yAxis.push(right);

  const xi = 2 * i;
  series.push({type:'line', xAxisIndex:xi, yAxisIndex:xi + 1, data:p.ext, showSymbol:false,
    smooth:0.3, lineStyle:{color:BLUE, width:1.6}, z:3, silent:true});
  p.fits.forEach(f => series.push({type:'line', xAxisIndex:xi, yAxisIndex:xi + 1, data:f,
    showSymbol:false, smooth:0.3, lineStyle:{color:'#3ee23e', width:1.7, type:[6,5]}, z:2, silent:true}));
  const tpaSeries = {type:'scatter', xAxisIndex:xi, yAxisIndex:xi, data:p.tpa, symbol:'circle', symbolSize:5,
    itemStyle:{color:'rgba(255,255,255,0)', borderColor:'#161616', borderWidth:1.2}, z:4, silent:true};
  const myArrows = arrows.filter(a => a[0] === i);
  if (myArrows.length) {
    tpaSeries.markLine = {silent:true, symbol:['none','arrow'], symbolSize:8, label:{show:false},
      animation:false,
      data:myArrows.map(a => [{coord:[a[1], a[2]], lineStyle:{color:a[5], width:1.5, type:'solid'}, itemStyle:{color:a[5]}}, {coord:[a[3], a[4]]}])};
  }
  series.push(tpaSeries);
  if (p.avg) series.push({type:'scatter', xAxisIndex:xi, yAxisIndex:xi, data:p.avg, symbol:'diamond', symbolSize:6,
    itemStyle:{color:PINK}, z:5, silent:true});
  p.bands.forEach(b => series.push({type:'line', xAxisIndex:xi, yAxisIndex:xi, data:[[b[0], b[2]], [b[1], b[2]]],
    showSymbol:false, lineStyle:{color:'#ff1a1a', width:2.4, type:[7,4]}, z:6, silent:true}));
});

const chart = echarts.init(document.getElementById('chart'));
chart.setOption({
  animation:false,
  backgroundColor:'#fff',
  textStyle:{fontFamily:FONT},
  grid, xAxis, yAxis, series
});

const noteStyles = {
  big:{fontFamily:FONT, fontSize:28, fontWeight:'bold', fill:'#ff1010', align:'center', verticalAlign:'middle'},
  blue:{fontFamily:'"Open Sans", sans-serif', fontSize:14, fontWeight:600, fill:'#1a5ad8', align:'center', verticalAlign:'middle'},
  green:{fontFamily:'"Open Sans", sans-serif', fontSize:14, fontWeight:600, fill:'#14b04a', align:'center', verticalAlign:'middle'},
  gray:{fontFamily:'"Open Sans", sans-serif', fontSize:14, fontWeight:600, fill:'#333', align:'center', verticalAlign:'middle'},
  note:{fontFamily:'"Open Sans", sans-serif', fontSize:12.5, fontWeight:700, fill:'#ff2020', align:'left', verticalAlign:'top', lineHeight:16}
};
const graphic = [];
boxes.forEach(([l, t, w], i) => {
  graphic.push({type:'text', x:l + 13, y:t + 26, silent:true,
    style:{text:letters[i], fontFamily:FONT, fontSize:24, fontWeight:'bold', fontStyle:'italic', fill:'#111', align:'center', verticalAlign:'middle'}});
  graphic.push({type:'text', x:l + w - 11, y:t + 26, silent:true,
    style:{text:numbers[i], fontFamily:FONT, fontSize:24, fontWeight:'bold', fill:'#111', align:'right', verticalAlign:'middle'}});
});
notes.forEach(([gi, x, y, txt, kind]) => {
  const pt = chart.convertToPixel({xAxisIndex:2 * gi, yAxisIndex:2 * gi}, [x, y]);
  graphic.push({type:'text', x:pt[0], y:pt[1], silent:true, style:Object.assign({text:txt}, noteStyles[kind])});
});
chart.setOption({graphic});
</script>
</body>
</html>
